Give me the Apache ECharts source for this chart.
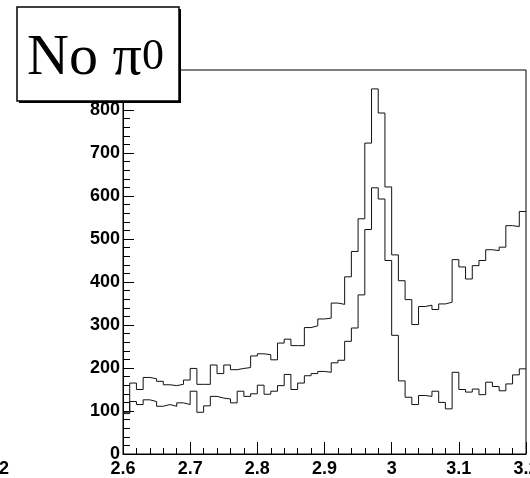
<!DOCTYPE html>
<html>
<head>
<meta charset="utf-8">
<script src="https://cdn.jsdelivr.net/npm/echarts@6/dist/echarts.min.js"></script>
<style>
html, body { margin: 0; background: #fff; }
#chart { width: 530px; height: 478px; }
</style>
</head>
<body>
<div id="chart"></div>
<script>
// bins of 0.01 starting at 2.60
const xStart = 2.6
const binWidth = 0.01
const upperCounts = [
  97, 165, 150, 178, 175, 169, 161, 159, 162, 172,
  199, 162, 162, 207, 187, 207, 196, 199, 201, 228,
  233, 231, 219, 258, 267, 252, 252, 294, 298, 314,
  316, 351, 348, 412, 471, 547, 723, 849, 793, 621,
  463, 403, 359, 301, 343, 346, 336, 349, 353, 452,
  435, 407, 438, 450, 475, 473, 481, 531, 529, 564
]
const lowerCounts = [
  94, 122, 115, 126, 122, 111, 115, 111, 119, 115,
  146, 97, 112, 134, 130, 128, 119, 146, 134, 140,
  160, 139, 146, 159, 185, 150, 165, 182, 187, 192,
  190, 212, 218, 262, 293, 370, 522, 619, 593, 450,
  276, 170, 132, 115, 136, 134, 146, 120, 105, 190,
  150, 144, 151, 138, 167, 157, 147, 163, 184, 198
]
const yMax = 893

function steps(counts) {
  let pts = counts.map((v, i) => [+(xStart + i * binWidth).toFixed(2), v])
  pts.push([+(xStart + counts.length * binWidth).toFixed(2), counts[counts.length - 1]])
  return pts
}

const labelFont = {
  color: '#000',
  fontFamily: 'Liberation Sans',
  fontWeight: 'bold',
  fontSize: 18
}

let chart = echarts.init(document.getElementById('chart'), null, {renderer: 'canvas'})
chart.setOption({
  animation: false,
  backgroundColor: '#fff',
  grid: {
    left: 123, right: 4, top: 70, bottom: 24,
    outerBoundsMode: 'none', containLabel: false,
    show: true, borderColor: '#000', borderWidth: 1, backgroundColor: 'transparent'
  },
  xAxis: {
    type: 'value',
    min: 2.6, max: 3.2, interval: 0.1,
    axisLine: {show: true, lineStyle: {color: '#000', width: 1}},
    axisTick: {show: true, inside: true, length: 12, lineStyle: {color: '#000'}},
    minorTick: {show: true, splitNumber: 5, length: 6, lineStyle: {color: '#000'}},
    splitLine: {show: false},
    axisLabel: Object.assign({margin: 6, hideOverlap: false, formatter: v => String(+v.toFixed(2))}, labelFont)
  },
  yAxis: {
    type: 'value',
    min: 0, max: yMax, interval: 100,
    axisLine: {show: true, lineStyle: {color: '#000', width: 1}},
    axisTick: {show: true, inside: true, length: 11, lineStyle: {color: '#000'}},
    minorTick: {show: true, splitNumber: 5, length: 7, lineStyle: {color: '#000'}},
    splitLine: {show: false},
    axisLabel: Object.assign({margin: 3, showMaxLabel: false}, labelFont)
  },
  series: [
    {
      type: 'line', step: 'end', data: steps(upperCounts),
      showSymbol: false, symbol: 'none',
      lineStyle: {color: '#111', width: 1}
    },
    {
      type: 'line', step: 'end', data: steps(lowerCounts),
      showSymbol: false, symbol: 'none',
      lineStyle: {color: '#111', width: 1}
    }
  ],
  graphic: [
    {
      type: 'rect', z: 100,
      shape: {x: 19, y: 9, width: 162, height: 94},
      style: {fill: '#000'}
    },
    {
      type: 'rect', z: 101,
      shape: {x: 17, y: 7, width: 162, height: 94},
      style: {fill: '#fff', stroke: '#000', lineWidth: 1.5}
    },
    {
      type: 'text', z: 102, x: 27, y: 59,
      style: {text: 'No \u03c0', fill: '#000', font: '58px "Liberation Serif"', verticalAlign: 'middle', align: 'left'}
    },
    {
      type: 'text', z: 102, x: 142, y: 57,
      style: {text: '0', fill: '#000', font: '44px "Liberation Serif"', verticalAlign: 'middle', align: 'left'}
    },
    {
      type: 'text', z: 102, x: -1, y: 469,
      style: {text: '2', fill: '#000', font: 'bold 18px "Liberation Sans"', verticalAlign: 'middle', align: 'left'}
    }
  ]
})
</script>
</body>
</html>
